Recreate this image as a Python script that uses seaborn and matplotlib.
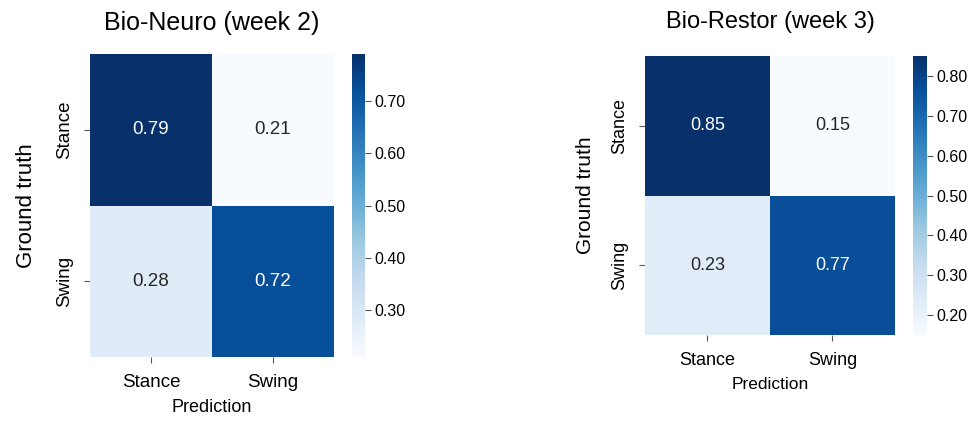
import numpy as np
import pandas as pd
import matplotlib
matplotlib.use("Agg")
import matplotlib.pyplot as plt
import seaborn as sns
from matplotlib.ticker import FormatStrFormatter

sns.set_theme(style="white")
plt.rcParams["font.family"] = ["Liberation Sans", "DejaVu Sans"]
plt.rcParams.update({"text.color": "black", "axes.labelcolor": "black",
                     "xtick.color": "black", "ytick.color": "black"})

classes = ["Stance", "Swing"]
neuro_week2 = [[0.79, 0.21],
               [0.28, 0.72]]
restor_week3 = [[0.85, 0.15],
                [0.23, 0.77]]
titles = ["Bio-Neuro (week 2)", "Bio-Restor (week 3)"]
cbar_ticks_neuro = [0.30, 0.40, 0.50, 0.60, 0.70]
cbar_ticks_restor = [0.20, 0.30, 0.40, 0.50, 0.60, 0.70, 0.80]

fig = plt.figure(figsize=(9.75, 4.24), dpi=100)

panels = [
    dict(data=neuro_week2, title=titles[0], ticks=cbar_ticks_neuro,
         ax=[0.0923, 0.158, 0.2503, 0.7146], cax=[0.361, 0.158, 0.0135, 0.7146],
         title_fs=18, title_pad=17, tick_fs=13.5, ann_fs=13.5, cb_fs=11.5,
         ylab_fs=16, ylab_pad=14, xlab_fs=13),
    dict(data=restor_week3, title=titles[1], ticks=cbar_ticks_restor,
         ax=[0.6615, 0.2099, 0.2564, 0.658], cax=[0.9364, 0.2099, 0.0144, 0.658],
         title_fs=17, title_pad=20, tick_fs=13, ann_fs=13, cb_fs=11.5,
         ylab_fs=15, ylab_pad=12, xlab_fs=12.5),
]

for p in panels:
    df = pd.DataFrame(p["data"], index=classes, columns=classes)
    ax = fig.add_axes(p["ax"])
    cax = fig.add_axes(p["cax"])
    sns.heatmap(df, ax=ax, cbar_ax=cax, cmap="Blues", annot=True, fmt=".2f",
                annot_kws={"fontsize": p["ann_fs"]}, square=False)
    ax.set_title(p["title"], fontsize=p["title_fs"], pad=p["title_pad"])
    ax.set_xlabel("Prediction", fontsize=p["xlab_fs"], labelpad=6)
    ax.set_ylabel("Ground truth", fontsize=p["ylab_fs"], labelpad=p["ylab_pad"])
    ax.tick_params(axis="both", length=4, width=0.8, color="#555555",
                   labelsize=p["tick_fs"], bottom=True, left=True, pad=8)
    ax.tick_params(axis="y", labelrotation=90)
    for lab in ax.get_yticklabels():
        lab.set_verticalalignment("center")
        lab.set_fontsize(p["tick_fs"])
    for lab in ax.get_xticklabels():
        lab.set_fontsize(p["tick_fs"])
    cax.yaxis.set_ticks(p["ticks"])
    cax.yaxis.set_major_formatter(FormatStrFormatter("%.2f"))
    cax.tick_params(axis="y", length=4, width=0.8, color="#555555",
                    labelsize=p["cb_fs"], right=True, pad=3)
    for s in cax.spines.values():
        s.set_visible(False)

fig.savefig("out.png", dpi=100)
